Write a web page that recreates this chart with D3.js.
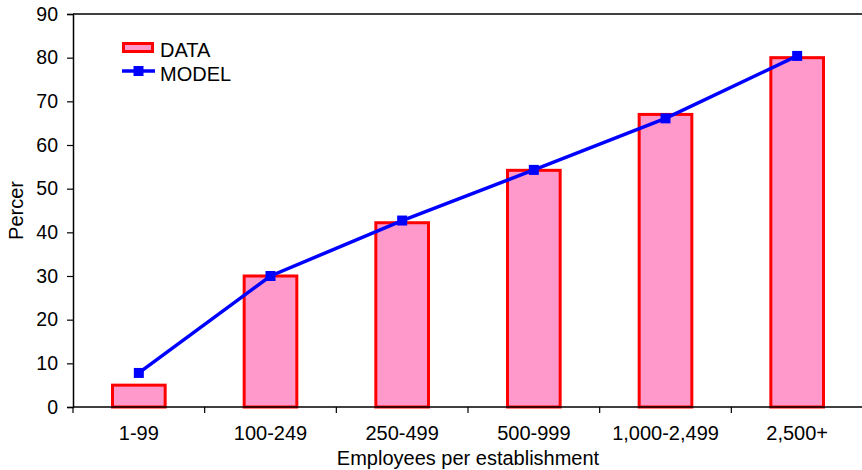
<!DOCTYPE html>
<html>
<head>
<meta charset="utf-8">
<script src="https://cdn.jsdelivr.net/npm/d3@7/dist/d3.min.js"></script>
<style>
  html, body { margin: 0; padding: 0; background: #fff; }
  svg { display: block; }
  text { font-family: "Liberation Sans", Arial, sans-serif; fill: #000; }
</style>
</head>
<body>
<svg id="chart" width="862" height="470"></svg>
<script>
// Share of establishments, by size class: observed vs. model
const categories = ["1-99", "100-249", "250-499", "500-999", "1,000-2,499", "2,500+"];
const dataValues = [5, 30, 42.2, 54.2, 67, 80];
const modelValues = [7.8, 30, 42.7, 54.3, 66.1, 80.4];
const yTicks = [0, 10, 20, 30, 40, 50, 60, 70, 80, 90];
const seriesNames = ["DATA", "MODEL"];
const xTitle = "Employees per establishment";
const yTitle = "Percer";

const svg = d3.select("#chart");
const W = 862, H = 470;
const m = { left: 73, top: 14, right: 0, bottom: 63 };
const plotW = W - m.left - m.right + 1;
const plotH = H - m.top - m.bottom;
const fontSize = 19.5;
const labelSize = 20;

const x = d3.scaleBand()
  .domain(categories)
  .range([m.left, m.left + plotW])
  .paddingInner(0.6)
  .paddingOuter(0.3);

const y = d3.scaleLinear().domain([0, 90]).range([m.top + plotH, m.top]);

// Frame: top edge
svg.append("line")
  .attr("x1", m.left).attr("x2", W)
  .attr("y1", y(90)).attr("y2", y(90))
  .attr("stroke", "#000").attr("stroke-width", 1.5);

// Bars (DATA)
svg.append("g").selectAll("rect")
  .data(dataValues)
  .join("rect")
  .attr("x", (d, i) => x(categories[i]))
  .attr("width", x.bandwidth())
  .attr("y", d => y(d))
  .attr("height", d => y(0) - y(d))
  .attr("fill", "#FF99CC")
  .attr("stroke", "#FF0000")
  .attr("stroke-width", 3);

// Y axis
const yAxis = svg.append("g")
  .attr("transform", `translate(${m.left},0)`)
  .call(d3.axisLeft(y).tickValues(yTicks).tickSize(6).tickPadding(9).tickFormat(d3.format("d")));
yAxis.select(".domain").attr("stroke", "#000").attr("stroke-width", 1.5);
yAxis.selectAll(".tick line").attr("stroke", "#000").attr("stroke-width", 1.2);
yAxis.selectAll(".tick text")
  .style("font-size", fontSize + "px")
  .style("font-family", "'Liberation Sans', Arial, sans-serif")
  .attr("fill", "#000");

// X axis: labels centred under bars, tick marks at category boundaries
const xAxis = svg.append("g")
  .attr("transform", `translate(0,${y(0)})`)
  .call(d3.axisBottom(x).tickSize(0).tickPadding(19));
xAxis.select(".domain").remove();
xAxis.selectAll(".tick text")
  .style("font-size", labelSize + "px")
  .style("font-family", "'Liberation Sans', Arial, sans-serif")
  .attr("fill", "#000");

svg.append("line")
  .attr("x1", m.left).attr("x2", W)
  .attr("y1", y(0)).attr("y2", y(0))
  .attr("stroke", "#000").attr("stroke-width", 1.5);

const step = x.step();
const boundaries = d3.range(categories.length).map(i => m.left + i * step);
svg.append("g").selectAll("line")
  .data(boundaries)
  .join("line")
  .attr("x1", d => d).attr("x2", d => d)
  .attr("y1", y(0)).attr("y2", y(0) + 6)
  .attr("stroke", "#000").attr("stroke-width", 1.2);

// Model line with square markers
const cx = i => x(categories[i]) + x.bandwidth() / 2;
const line = d3.line().x((d, i) => cx(i)).y(d => y(d));
svg.append("path")
  .datum(modelValues)
  .attr("d", line)
  .attr("fill", "none")
  .attr("stroke", "#0000FF")
  .attr("stroke-width", 3.5);

const ms = 10;
svg.append("g").selectAll("rect")
  .data(modelValues)
  .join("rect")
  .attr("x", (d, i) => cx(i) - ms / 2)
  .attr("y", d => y(d) - ms / 2)
  .attr("width", ms).attr("height", ms)
  .attr("fill", "#0000FF");

// Legend
const lg = svg.append("g");
lg.append("rect")
  .attr("x", 123.5).attr("y", 43.5).attr("width", 29).attr("height", 8)
  .attr("fill", "#FF99CC").attr("stroke", "#FF0000").attr("stroke-width", 3);
lg.append("text").attr("x", 160).attr("y", 57).style("font-size", labelSize + "px").text(seriesNames[0]);
lg.append("line")
  .attr("x1", 122).attr("x2", 155).attr("y1", 71).attr("y2", 71)
  .attr("stroke", "#0000FF").attr("stroke-width", 3.5);
lg.append("rect")
  .attr("x", 138.5 - ms / 2).attr("y", 71 - ms / 2).attr("width", ms).attr("height", ms)
  .attr("fill", "#0000FF");
lg.append("text").attr("x", 160).attr("y", 81).style("font-size", labelSize + "px").text(seriesNames[1]);

// Axis titles
svg.append("text")
  .attr("x", m.left + plotW / 2).attr("y", 465)
  .attr("text-anchor", "middle")
  .style("font-size", labelSize + "px")
  .text(xTitle);

svg.append("text")
  .attr("transform", `translate(23,${m.top + plotH / 2}) rotate(-90)`)
  .attr("text-anchor", "middle")
  .style("font-size", labelSize + "px")
  .text(yTitle);
</script>
</body>
</html>
